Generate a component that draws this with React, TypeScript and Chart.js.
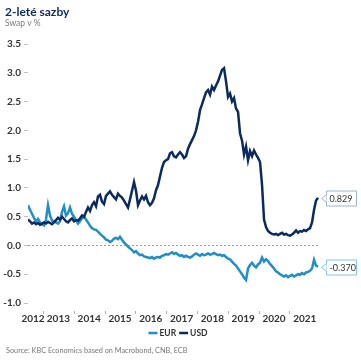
import React, { useEffect, useRef } from "react";
import { Chart, registerables } from "chart.js";

Chart.register(...registerables);

// Sampling grid (decimal years), roughly every 3.4 weeks from mid-2012 to late 2021
const START_YEAR = 2012.513;
const STEP_YEARS = 0.06494;

const usdValues = [
  0.45, 0.42, 0.38, 0.40, 0.37, 0.39, 0.36, 0.38, 0.40, 0.38,
  0.41, 0.39, 0.37, 0.40, 0.44, 0.48, 0.45, 0.50, 0.46, 0.42,
  0.40, 0.44, 0.47, 0.42, 0.44, 0.43, 0.47, 0.52, 0.50, 0.58,
  0.66, 0.60, 0.70, 0.75, 0.68, 0.85, 0.88, 0.76, 0.72, 0.86,
  0.90, 0.94, 0.88, 0.84, 0.80, 0.90, 0.86, 0.83, 0.78, 0.72,
  0.66, 0.80, 0.95, 1.10, 0.95, 0.70, 0.78, 0.85, 0.80, 0.86,
  0.75, 0.70, 0.74, 0.82, 0.96, 1.05, 1.20, 1.35, 1.45, 1.48,
  1.50, 1.60, 1.62, 1.55, 1.53, 1.58, 1.62, 1.58, 1.52, 1.55,
  1.68, 1.76, 1.83, 1.90, 2.00, 2.15, 2.35, 2.45, 2.56, 2.66,
  2.70, 2.62, 2.76, 2.70, 2.78, 2.85, 2.95, 3.05, 3.08, 2.85,
  2.58, 2.64, 2.50, 2.56, 2.38, 2.32, 1.95, 1.82, 1.58, 1.72,
  1.48, 1.64, 1.55, 1.65, 1.58, 1.52, 1.45, 1.05, 0.45, 0.32,
  0.25, 0.22, 0.20, 0.19, 0.20, 0.18, 0.20, 0.22, 0.19, 0.20,
  0.18, 0.17, 0.19, 0.22, 0.26, 0.22, 0.25, 0.24, 0.27, 0.25,
  0.28, 0.30, 0.40, 0.62, 0.78, 0.829,
];

const eurValues = [
  0.70, 0.62, 0.55, 0.48, 0.42, 0.46, 0.40, 0.37, 0.35, 0.45,
  0.70, 0.52, 0.43, 0.42, 0.40, 0.38, 0.42, 0.58, 0.68, 0.52,
  0.56, 0.66, 0.55, 0.50, 0.44, 0.38, 0.42, 0.47, 0.50, 0.45,
  0.40, 0.34, 0.30, 0.28, 0.27, 0.24, 0.20, 0.17, 0.14, 0.10,
  0.09, 0.06, 0.08, 0.12, 0.13, 0.11, 0.15, 0.10, 0.05, 0.02,
  -0.02, -0.05, -0.08, -0.12, -0.10, -0.14, -0.17, -0.16, -0.19, -0.20,
  -0.21, -0.22, -0.20, -0.23, -0.21, -0.20, -0.21, -0.18, -0.17, -0.15,
  -0.16, -0.14, -0.12, -0.15, -0.13, -0.16, -0.18, -0.17, -0.20, -0.18,
  -0.20, -0.21, -0.19, -0.16, -0.14, -0.16, -0.18, -0.15, -0.17, -0.16,
  -0.14, -0.16, -0.15, -0.13, -0.15, -0.17, -0.16, -0.18, -0.17, -0.20,
  -0.23, -0.24, -0.28, -0.32, -0.35, -0.40, -0.45, -0.50, -0.56, -0.60,
  -0.40, -0.34, -0.30, -0.35, -0.38, -0.33, -0.30, -0.21, -0.28, -0.24,
  -0.27, -0.32, -0.36, -0.40, -0.45, -0.47, -0.50, -0.52, -0.54, -0.52,
  -0.55, -0.53, -0.51, -0.54, -0.52, -0.50, -0.51, -0.48, -0.50, -0.47,
  -0.46, -0.44, -0.40, -0.25, -0.35, -0.37,
];

const dates = usdValues.map((_, i) => START_YEAR + i * STEP_YEARS);

const yearLabels = ["2012", "2013", "2014", "2015", "2016", "2017", "2018", "2019", "2020", "2021"];
const yearLabelPositions = [2012.675, 2013.5, 2014.5, 2015.5, 2016.5, 2017.5, 2018.5, 2019.5, 2020.5, 2021.5];
const yearBoundaries = [2013, 2014, 2015, 2016, 2017, 2018, 2019, 2020, 2021];

const EUR_COLOR = "#1f8fc5";
const USD_COLOR = "#0b2b5e";
const FONT = "Lato, 'Noto Sans', sans-serif";

const TITLE = "2-leté sazby";
const SUBTITLE = "Swap v %";
const SOURCE = "Source: KBC Economics based on Macrobond, CNB, ECB";
const legendItems = [
  { label: "EUR", color: EUR_COLOR },
  { label: "USD", color: USD_COLOR },
];

const overlayPlugin = {
  id: "overlay",
  beforeDatasetsDraw(chart: any) {
    const { ctx, chartArea, scales } = chart;
    const y0 = scales.y.getPixelForValue(0);
    ctx.save();
    ctx.strokeStyle = "#9a9a9a";
    ctx.lineWidth = 1;
    ctx.setLineDash([2, 2]);
    ctx.beginPath();
    ctx.moveTo(chartArea.left, Math.round(y0) + 0.5);
    ctx.lineTo(chartArea.right, Math.round(y0) + 0.5);
    ctx.stroke();
    ctx.restore();
  },
  afterDraw(chart: any) {
    const { ctx, chartArea, scales } = chart;
    ctx.save();
    // title + subtitle
    ctx.textBaseline = "alphabetic";
    ctx.textAlign = "left";
    ctx.fillStyle = USD_COLOR;
    ctx.font = `bold 12px ${FONT}`;
    ctx.fillText(TITLE, 5, 15.5);
    ctx.fillStyle = "#7a7a7a";
    ctx.font = `8.5px ${FONT}`;
    ctx.fillText(SUBTITLE, 5, 25.5);

    // year boundary tick marks
    ctx.strokeStyle = "#b0b0b0";
    ctx.lineWidth = 1;
    yearBoundaries.forEach((yr) => {
      const x = Math.round(scales.x.getPixelForValue(yr)) + 0.5;
      ctx.beginPath();
      ctx.moveTo(x, chartArea.bottom + 8);
      ctx.lineTo(x, chartArea.bottom + 11);
      ctx.stroke();
    });

    // legend (centered)
    const ly = 333;
    const lineLen = 9;
    const gapLT = 2;
    const gapItems = 3;
    ctx.font = `bold 8.5px ${FONT}`;
    const widths = legendItems.map((it) => lineLen + gapLT + ctx.measureText(it.label).width);
    const total = widths.reduce((a, b) => a + b, 0) + gapItems * (legendItems.length - 1);
    let lx = 178 - total / 2;
    legendItems.forEach((it, i) => {
      ctx.lineWidth = 2.5;
      ctx.strokeStyle = it.color;
      ctx.beginPath();
      ctx.moveTo(lx, ly);
      ctx.lineTo(lx + lineLen, ly);
      ctx.stroke();
      ctx.fillStyle = "#333";
      ctx.textBaseline = "middle";
      ctx.fillText(it.label, lx + lineLen + gapLT, ly + 0.5);
      lx += widths[i] + gapItems;
    });

    // source
    ctx.fillStyle = "#777";
    ctx.font = `7.3px ${FONT}`;
    ctx.fillText(SOURCE, 6, 351);

    // end-value callouts
    const callouts = [
      { v: usdValues[usdValues.length - 1], border: "#9fb3cc" },
      { v: eurValues[eurValues.length - 1], border: "#86c6e3" },
    ];
    callouts.forEach((c) => {
      const cy = Math.round(scales.y.getPixelForValue(c.v)) + 0.5;
      const bx = 326.5;
      const bw = 30;
      const bh = 15;
      ctx.fillStyle = "#fff";
      ctx.strokeStyle = c.border;
      ctx.lineWidth = 1;
      ctx.beginPath();
      ctx.rect(bx, cy - bh / 2, bw, bh);
      ctx.fill();
      ctx.stroke();
      // pointer
      ctx.beginPath();
      ctx.moveTo(bx, cy - 4);
      ctx.lineTo(bx - 5, cy);
      ctx.lineTo(bx, cy + 4);
      ctx.closePath();
      ctx.fill();
      ctx.beginPath();
      ctx.moveTo(bx, cy - 4);
      ctx.lineTo(bx - 5, cy);
      ctx.lineTo(bx, cy + 4);
      ctx.stroke();
      ctx.fillStyle = "#333";
      ctx.font = `9px ${FONT}`;
      ctx.textAlign = "left";
      ctx.textBaseline = "middle";
      ctx.fillText(c.v.toFixed(3), bx + 3, cy + 0.5);
    });
    ctx.restore();
  },
};

export default function App() {
  const canvasRef = useRef<HTMLCanvasElement | null>(null);

  useEffect(() => {
    document.body.style.margin = "0";
    const canvas = canvasRef.current;
    if (!canvas) return;
    const chart = new Chart(canvas, {
      type: "line",
      data: {
        datasets: [
          {
            label: "USD",
            data: dates.map((d, i) => ({ x: d, y: usdValues[i] })),
            borderColor: USD_COLOR,
            borderWidth: 2.5,
            pointRadius: 0,
            tension: 0,
          },
          {
            label: "EUR",
            data: dates.map((d, i) => ({ x: d, y: eurValues[i] })),
            borderColor: EUR_COLOR,
            borderWidth: 2.5,
            pointRadius: 0,
            tension: 0,
          },
        ],
      },
      options: {
        responsive: false,
        animation: false,
        devicePixelRatio: 1,
        layout: { padding: { top: 44, right: 41, bottom: 38, left: 0 } },
        plugins: {
          legend: { display: false },
          title: { display: false },
          tooltip: { enabled: false },
        },
        scales: {
          x: {
            type: "linear",
            min: 2012.513,
            max: 2021.993,
            grid: { display: false, drawTicks: false },
            border: { display: false },
            afterBuildTicks: (scale: any) => {
              scale.ticks = yearLabelPositions.map((v) => ({ value: v }));
            },
            afterFit: (scale: any) => {
              scale.height = 20;
            },
            ticks: {
              autoSkip: false,
              maxRotation: 0,
              padding: 10,
              color: "#333",
              font: { family: FONT, size: 10, weight: "bold" },
              callback: (_v: any, i: number) => yearLabels[i],
            },
          },
          y: {
            min: -1,
            max: 3.5,
            afterFit: (scale: any) => {
              scale.width = 28;
            },
            grid: {
              drawOnChartArea: false,
              drawTicks: true,
              tickLength: 4,
              tickColor: "#c0c0c0",
            },
            border: { display: false },
            ticks: {
              stepSize: 0.5,
              padding: 3,
              color: "#333",
              font: { family: FONT, size: 10, weight: "bold" },
              callback: (v: any) => Number(v).toFixed(1),
            },
          },
        },
      },
      plugins: [overlayPlugin],
    } as any);
    return () => chart.destroy();
  }, []);

  return (
    <div style={{ width: 361, height: 361 }}>
      <canvas ref={canvasRef} width={361} height={361} style={{ width: 361, height: 361, display: "block" }} />
    </div>
  );
}
